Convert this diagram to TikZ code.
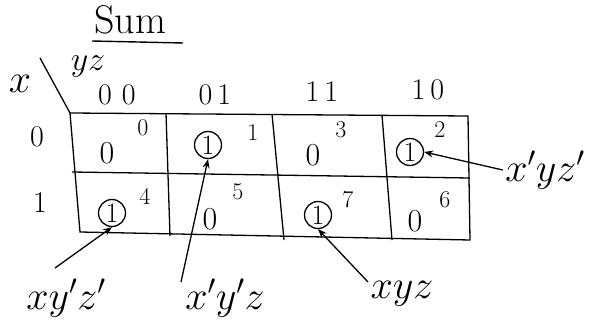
\RequirePackage{fix-cm}
\documentclass[tikz,border=0pt]{standalone}
\usetikzlibrary{arrows.meta}
\begin{document}
\begin{tikzpicture}[x=1pt,y=-1pt,line width=1.3pt,
  val/.style={font=\fontsize{32}{34}\selectfont,inner sep=1pt},
  circ/.style={font=\fontsize{28}{30}\selectfont,draw,circle,inner sep=0pt,minimum size=27pt},
  idx/.style={font=\fontsize{24}{26}\selectfont,inner sep=1pt},
  hdr/.style={font=\fontsize{30}{32}\selectfont,inner sep=1pt},
  lbl/.style={font=\fontsize{40}{42}\selectfont,inner sep=2pt},
  arr/.style={-{Stealth[length=9pt,width=7pt]},line width=1.3pt}]
\useasboundingbox (0,0) rectangle (597,329);
% title
\node[lbl] (sum) at (130,20) {Sum};
\draw[line width=1.4pt] (92,41) -- (183,43);
% corner
\node[lbl] (xv) at (20,84) {$x$};
\node[font=\fontsize{34}{36}\selectfont,inner sep=1pt] (yz) at (88,66) {$yz$};
\coordinate (d1) at (40,58);
\coordinate (d2) at (70,113);
\draw (d1) -- (d2);
% column headers
\node[hdr] (c00) at (117,95) {0\,\,0};
\node[hdr] (c01) at (215,95) {0\,1};
\node[hdr] (c11) at (322,92) {1\,1};
\node[hdr] (c10) at (428,90) {1\,0};
% row headers
\node[hdr] (r0) at (37,137) {0};
\node[hdr] (r1) at (40,203) {1};
% grid
\coordinate (tl) at (70,113);
\coordinate (tr) at (468,116);
\coordinate (ml) at (72,172);
\coordinate (mr) at (470,178);
\coordinate (bl) at (80,232);
\coordinate (br) at (470,240);
\draw (tl) -- (tr) -- (br) -- (bl) -- cycle;
\draw (ml) -- (mr);
\draw (166,113) -- (170,236);
\draw (272,114) -- (284,240);
\draw (382,115) -- (392,240);
% row 0 cells
\node[val] (v0) at (107,153) {0};
\node[idx] (i0) at (143,128) {0};
\node[circ] (v1) at (208,145) {1};
\node[idx] (i1) at (253,133) {1};
\node[val] (v3) at (313,155) {0};
\node[idx] (i3) at (341,130) {3};
\node[circ] (v2) at (410,152) {1};
\node[idx] (i2) at (440,130) {2};
% row 1 cells
\node[circ] (v4) at (112,213) {1};
\node[idx] (i4) at (145,196) {4};
\node[val] (v5) at (210,219) {0};
\node[idx] (i5) at (238,192) {5};
\node[circ] (v7) at (318,215) {1};
\node[idx] (i7) at (348,200) {7};
\node[val] (v6) at (415,221) {0};
\node[idx] (i6) at (445,200) {6};
% labels
\node[lbl] (l4) at (66,298) {$xy'z'$};
\node[lbl] (l1) at (225,298) {$x'y'z$};
\node[lbl] (l7) at (402,294) {$xyz$};
\node[lbl] (l2) at (545,170) {$x'yz'$};
\coordinate (a4) at (55,268);
\coordinate (a1) at (181,282);
\coordinate (a7) at (368,282);
\draw[arr] (a4) -- (v4.south);
\draw[arr] (a1) -- (v1.south);
\draw[arr] (a7) -- (v7.south);
\draw[arr] (l2.west) -- (v2.east);
\end{tikzpicture}
\end{document}
